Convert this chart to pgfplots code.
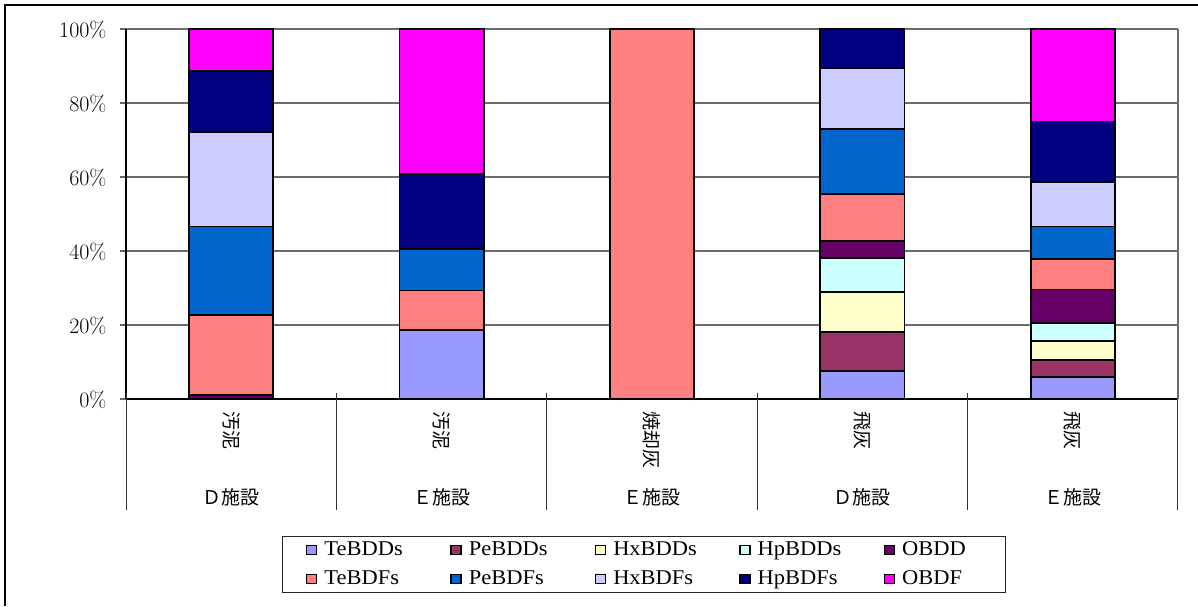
\documentclass[border=0pt]{standalone}
\usepackage{pgfplots}
\pgfplotsset{compat=1.18}
\usepackage{fontspec}
\newfontfamily\jp{Noto Sans CJK JP}
\newfontfamily\legfont[FakeStretch=1.07]{Liberation Serif}
\newfontfamily\tickfont{Latin Modern Roman}
\definecolor{cTeBDDs}{HTML}{9999FF}
\definecolor{cPeBDDs}{HTML}{993366}
\definecolor{cHxBDDs}{HTML}{FFFFCC}
\definecolor{cHpBDDs}{HTML}{CCFFFF}
\definecolor{cOBDD}{HTML}{660066}
\definecolor{cTeBDFs}{HTML}{FF8080}
\definecolor{cPeBDFs}{HTML}{0066CC}
\definecolor{cHxBDFs}{HTML}{CCCCFF}
\definecolor{cHpBDFs}{HTML}{000080}
\definecolor{cOBDF}{HTML}{FF00FF}
\newcommand\lgent[1]{\makebox[125pt][l]{#1}}
\newcommand\lgentb[1]{\makebox[78pt][l]{#1}}
\tikzset{vlab/.style={anchor=west, rotate=-90, inner sep=0pt, font=\jp\fontsize{19}{19}\selectfont},
         hlab/.style={anchor=center, inner sep=0pt, font=\jp\fontsize{19}{19}\selectfont}}
\begin{document}
\begin{tikzpicture}[x=1pt,y=1pt]
\useasboundingbox (0,0) rectangle (1198,606);
\draw[line width=1.3pt] (5,0) -- (5,601) -- (1198,601);
\begin{axis}[
  at={(126pt,207pt)}, anchor=south west,
  scale only axis, width=1052pt, height=370pt,
  xmin=-0.5, xmax=4.5, ymin=0, ymax=100,
  ybar stacked, bar width=0.4,
  axis x line=bottom, axis y line=left,
  axis line style={-, black, line width=1.4pt},
  xtick=\empty,
  ytick={0,20,40,60,80,100},
  /pgf/number format/assume math mode=true,
  yticklabel={\tickfont\fontsize{22}{22}\selectfont\pgfmathprintnumber{\tick}\%},
  tick align=outside, major tick length=6pt,
  y tick style={gray!80!black, line width=1.2pt},
  yticklabel style={xshift=-10pt, yshift=-1pt},
  ymajorgrids, grid style={gray!85!black, line width=1.3pt},
  clip=false,
  every axis plot/.append style={draw=black, line width=1.8pt},
  area legend,
  legend image code/.code={\draw[#1, draw=black, line width=1.4pt] (0pt,-4pt) rectangle (10pt,5pt);},
  legend columns=5,
  legend cell align=left,
  legend style={at={(0.492,-0.4486)}, anchor=center, draw=black!85, line width=1pt,
    font=\legfont\fontsize{21}{23}\selectfont,
    inner xsep=24pt, inner ysep=2pt, row sep=6pt,
    nodes={inner sep=1pt, text height=16pt, text depth=5pt},
    /tikz/every odd column/.append style={column sep=6pt}},
]
\addplot[fill=cTeBDDs] coordinates {(0,0) (1,18.6) (2,0) (3,7.6) (4,6.0)};
\addplot[fill=cPeBDDs] coordinates {(0,0) (1,0) (2,0) (3,10.5) (4,4.6)};
\addplot[fill=cHxBDDs] coordinates {(0,0) (1,0) (2,0) (3,10.8) (4,5.0)};
\addplot[fill=cHpBDDs] coordinates {(0,0) (1,0) (2,0) (3,9.3) (4,5.0)};
\addplot[fill=cOBDD] coordinates {(0,1.0) (1,0) (2,0) (3,4.6) (4,9.0)};
\addplot[fill=cTeBDFs] coordinates {(0,21.7) (1,10.7) (2,100) (3,12.6) (4,8.2)};
\addplot[fill=cPeBDFs] coordinates {(0,23.9) (1,11.2) (2,0) (3,17.5) (4,8.8)};
\addplot[fill=cHxBDFs] coordinates {(0,25.6) (1,0) (2,0) (3,16.4) (4,12.1)};
\addplot[fill=cHpBDFs] coordinates {(0,16.5) (1,20.4) (2,0) (3,10.7) (4,16.3)};
\addplot[fill=cOBDF] coordinates {(0,11.3) (1,39.1) (2,0) (3,0) (4,25.0)};
\legend{\lgent{TeBDDs},\lgent{PeBDDs},\lgent{HxBDDs},\lgent{HpBDDs},\lgentb{OBDD},\lgent{TeBDFs},\lgent{PeBDFs},\lgent{HxBDFs},\lgent{HpBDFs},\lgentb{OBDF}}
\draw[gray!85!black, line width=1.3pt] (rel axis cs:1,0) -- (rel axis cs:1,1);
\pgfplotsinvokeforeach{-0.5,0.5,1.5,2.5,3.5,4.5}{
  \draw[black!80, line width=1pt] (axis cs:#1,1.6) -- (axis cs:#1,-30);
}
\node[vlab] at (axis cs:0,-3.4) {汚泥};
\node[vlab] at (axis cs:1,-3.4) {汚泥};
\node[vlab] at (axis cs:2,-3.4) {焼却灰};
\node[vlab] at (axis cs:3,-3.4) {飛灰};
\node[vlab] at (axis cs:4,-3.4) {飛灰};
\node[hlab] at (axis cs:0,-26.5) {Ｄ施設};
\node[hlab] at (axis cs:1,-26.5) {Ｅ施設};
\node[hlab] at (axis cs:2,-26.5) {Ｅ施設};
\node[hlab] at (axis cs:3,-26.5) {Ｄ施設};
\node[hlab] at (axis cs:4,-26.5) {Ｅ施設};
\end{axis}
\end{tikzpicture}
\end{document}
